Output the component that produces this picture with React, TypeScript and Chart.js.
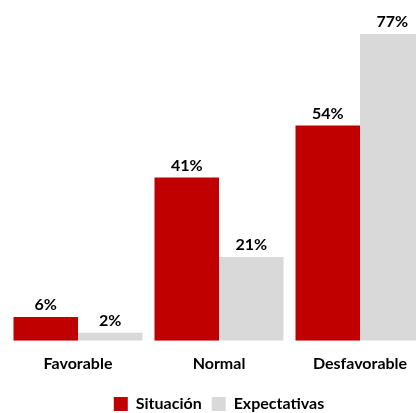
import React, { useEffect, useRef } from "react";
import { Chart, registerables } from "chart.js";

Chart.register(...registerables);

const categories = ["Favorable", "Normal", "Desfavorable"];
const situacion = [6, 41, 54];
const expectativas = [2, 21, 77];
const seriesNames = ["Situación", "Expectativas"];
const yMax = 85.5;

const RED = "#C00000";
const GRAY = "#D9D9D9";
const FONT = "Lato, 'Open Sans', sans-serif";

const labelPlugin = {
  id: "barLabels",
  afterDatasetsDraw(chart: any) {
    const ctx = chart.ctx;
    ctx.save();
    ctx.font = `bold 16px ${FONT}`;
    ctx.fillStyle = "#000";
    ctx.textAlign = "center";
    ctx.textBaseline = "bottom";
    chart.data.datasets.forEach((ds: any, i: number) => {
      const meta = chart.getDatasetMeta(i);
      meta.data.forEach((bar: any, j: number) => {
        ctx.fillText(`${ds.data[j]}%`, bar.x, bar.y - 4);
      });
    });
    ctx.restore();
  },
};

export default function App() {
  const ref = useRef<HTMLCanvasElement>(null);
  useEffect(() => {
    const chart = new Chart(ref.current!, {
      type: "bar",
      data: {
        labels: categories,
        datasets: [
          { label: seriesNames[0], data: situacion, backgroundColor: RED },
          { label: seriesNames[1], data: expectativas, backgroundColor: GRAY },
        ],
      },
      options: {
        animation: false,
        responsive: false,
        maintainAspectRatio: false,
        categoryPercentage: 0.915,
        barPercentage: 1,
        layout: { padding: { left: 7.5, right: 9.5, top: 0, bottom: -9 } },
        scales: {
          x: {
            grid: { display: false, drawTicks: false },
            border: { display: false },
            ticks: {
              color: "#000",
              font: { family: FONT, size: 16, weight: "bold" },
              padding: 13,
            },
          },
          y: { display: false, min: 0, max: yMax },
        },
        plugins: {
          tooltip: { enabled: false },
          legend: {
            position: "bottom",
            labels: {
              color: "#000",
              boxWidth: 14,
              boxHeight: 14,
              padding: 10,
              font: { family: FONT, size: 16, weight: "bold" },
            },
          },
        },
      } as any,
      plugins: [labelPlugin],
    });
    return () => chart.destroy();
  }, []);
  return (
    <div
      style={{
        position: "fixed",
        left: 0,
        top: 0,
        width: 416,
        height: 413,
        overflow: "hidden",
        background: "#fff",
      }}
    >
      <canvas ref={ref} width={440} height={413} style={{ width: 440, height: 413 }} />
    </div>
  );
}
